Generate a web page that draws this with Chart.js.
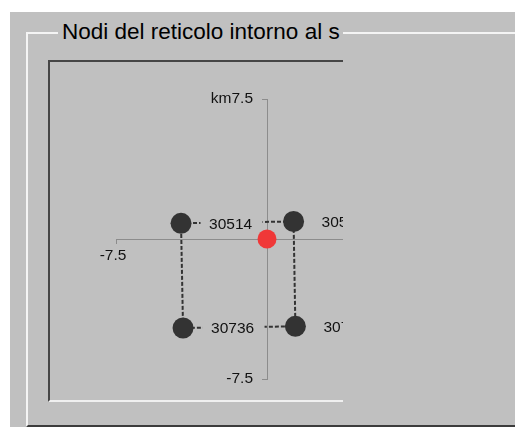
<!DOCTYPE html>
<html>
<head>
<meta charset="utf-8">
<script src="https://cdn.jsdelivr.net/npm/chart.js@4/dist/chart.umd.min.js"></script>
<style>
  body { margin: 0; background: #fff; font-family: "Liberation Sans", Arial, sans-serif; }
  #panel { position: absolute; left: 10px; top: 12px; width: 505px; height: 415px; background: #c0c0c0; }
  #group {
    position: absolute; left: 26px; top: 32px; width: 489px; height: 395px; box-sizing: border-box;
    border-left: 2px solid #f4f4f4; border-top: 2px solid #f4f4f4; border-bottom: 2px solid #3c3c3c;
  }
  #title {
    position: absolute; left: 58px; top: 19px; width: 285px; height: 27px; overflow: hidden;
    background: #c0c0c0; white-space: nowrap; font-size: 22.5px; line-height: 26px;
    padding-left: 4px; box-sizing: border-box; color: #000;
  }
  #frame {
    position: absolute; left: 48px; top: 60px; width: 295px; height: 342px; box-sizing: border-box;
    border-left: 2px solid #464646; border-top: 2px solid #464646; border-bottom: 2px solid #f0f0f0;
    overflow: hidden;
  }
  #frame canvas { position: absolute; left: 0; top: 0; }
</style>
</head>
<body>
<div id="panel"></div>
<div id="group"></div>
<div id="title">Nodi del reticolo intorno al s</div>
<div id="frame"><canvas id="grid" width="420" height="338"></canvas></div>
<script>
// grid nodes around the site (km)
const nodeIds = ["30514", "30515", "30736", "30737"];
const nodeX = [-4.27, 1.32, -4.17, 1.41];
const nodeY = [0.84, 0.94, -4.77, -4.68];
const siteX = [0];
const siteY = [0];
const axisTicks = [-7.5, 7.5];
const cellOrder = [0, 1, 3, 2, 0];

const fontFamily = '"Liberation Sans", Arial, sans-serif';
const labelFont = "15.5px " + fontFamily;

const nodeLabels = {
  id: "nodeLabels",
  afterDatasetDraw(chart, args) {
    if (args.index !== 1) return;
    const ctx = chart.ctx;
    const xs = chart.scales.x;
    const ys = chart.scales.y;
    ctx.save();
    ctx.font = labelFont;
    ctx.textBaseline = "middle";
    ctx.textAlign = "left";
    nodeIds.forEach((id, i) => {
      const px = xs.getPixelForValue(nodeX[i]);
      const py = ys.getPixelForValue(nodeY[i]);
      ctx.fillStyle = "#c0c0c0";
      ctx.fillRect(px + 19.5, py - 9, 62, 18);
      ctx.fillStyle = "#111";
      ctx.fillText(id, px + 28, py + 1);
    });
    ctx.restore();
  },
  // y tick labels sit left of the centred axis, past the tick marks
  afterDraw(chart) {
    const ctx = chart.ctx;
    const ys = chart.scales.y;
    const axisPx = chart.scales.x.getPixelForValue(0);
    ctx.save();
    ctx.font = labelFont;
    ctx.textBaseline = "middle";
    ctx.textAlign = "right";
    ctx.fillStyle = "#111";
    ys.ticks.forEach((t) => {
      const label = t.value === 7.5 ? "km" + t.value : String(t.value);
      ctx.fillText(label, axisPx - 14, ys.getPixelForValue(t.value));
    });
    ctx.restore();
  }
};

const ctx = document.getElementById("grid");

new Chart(ctx, {
  type: "scatter",
  data: {
    datasets: [
      {
        label: "cells",
        data: cellOrder.map((i) => ({ x: nodeX[i], y: nodeY[i] })),
        showLine: true,
        borderColor: "#333333",
        borderWidth: 2,
        borderDash: [4, 2],
        pointRadius: 0,
        order: 3,
      },
      {
        label: "nodes",
        data: nodeX.map((x, i) => ({ x: x, y: nodeY[i] })),
        backgroundColor: "#333333",
        borderWidth: 0,
        pointRadius: 10.5,
        order: 2,
      },
      {
        label: "site",
        data: siteX.map((x, i) => ({ x: x, y: siteY[i] })),
        backgroundColor: "#f03838",
        borderWidth: 0,
        pointRadius: 9.5,
        order: 1,
      },
    ],
  },
  options: {
    responsive: false,
    animation: false,
    devicePixelRatio: 1,
    layout: { padding: { left: 66, right: 52, top: 37, bottom: 21 } },
    plugins: { legend: { display: false }, tooltip: { enabled: false } },
    scales: {
      x: {
        type: "linear",
        min: -7.5,
        max: 7.5,
        position: { y: 0 },
        afterBuildTicks: (s) => { s.ticks = axisTicks.map((v) => ({ value: v })); },
        grid: { drawOnChartArea: false, tickLength: 4, color: "#8c8c8c" },
        border: { color: "#8c8c8c" },
        ticks: {
          color: "#111",
          font: { size: 15.5, family: fontFamily },
          padding: 3,
          labelOffset: -3,
          maxRotation: 0,
          autoSkip: false,
          callback: (v) => String(v),
        },
      },
      y: {
        type: "linear",
        min: -7.5,
        max: 7.5,
        position: { x: 0 },
        afterBuildTicks: (s) => { s.ticks = axisTicks.map((v) => ({ value: v })); },
        grid: { drawOnChartArea: false, tickLength: 5, color: "#8c8c8c" },
        border: { color: "#8c8c8c" },
        ticks: { display: false },
      },
    },
  },
  plugins: [nodeLabels],
});
</script>
</body>
</html>
